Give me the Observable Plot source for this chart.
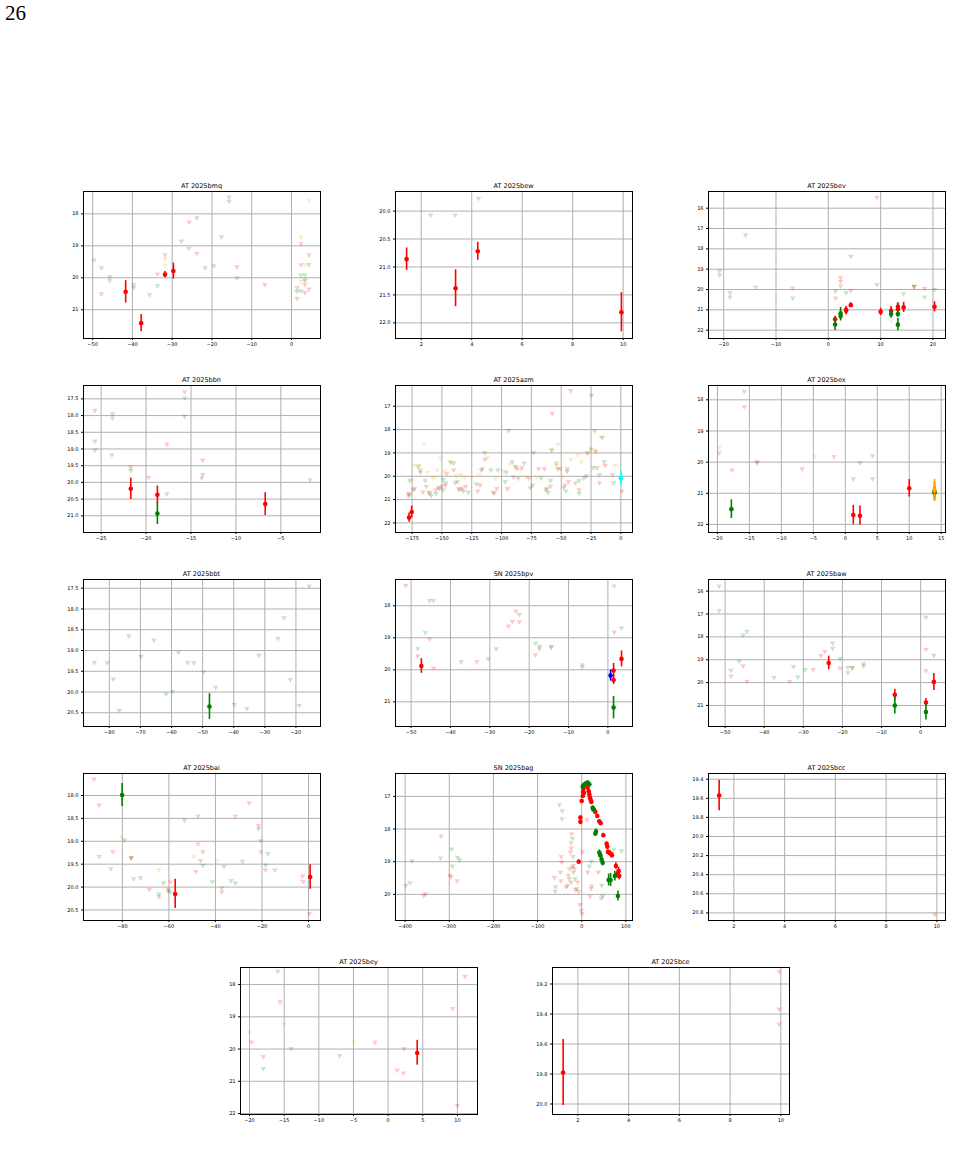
<!DOCTYPE html>
<html><head><meta charset="utf-8">
<script src="https://cdn.jsdelivr.net/npm/d3@7"></script>
<script src="https://cdn.jsdelivr.net/npm/@observablehq/plot@0.6"></script>
<style>
body{margin:0;background:#fff;}
#page{position:relative;width:953px;height:1154px;overflow:hidden;font-family:"DejaVu Sans",sans-serif;background:#fff;color:#000;}
.pg{position:absolute;left:5px;top:1px;font-family:"Liberation Serif","DejaVu Serif",serif;font-size:21px;}
.panel{position:absolute;}
.ttl{position:absolute;font-size:6.5px;text-align:center;white-space:nowrap;color:#000;}
</style></head><body><div id="page"><div class="pg">26</div></div>
<script>
// ---------- DATA: detections [phase, mag, err, band], upper limits [phase, mag, band] ----------
const bmq_det = [[-41.7,20.44,0.35,"r"],[-37.8,21.42,0.27,"r"],[-31.8,19.90,0.1,"r"],[-29.7,19.79,0.25,"r"]];
const bmq_lim = [[-15.7,17.49,"g"],[-15.7,17.62,"r"],[4.4,17.59,"o"],[-25.7,18.27,"r"],[-23.8,18.14,"g"],[-17.6,18.73,"g"],
 [-27.7,18.87,"g"],[-25.8,19.09,"g"],[-23.8,19.25,"r"],[-31.8,19.30,"g"],[-31.8,19.43,"o"],[-31.8,19.62,"o"],[-49.6,19.46,"g"],
 [-47.8,19.70,"g"],[-21.7,19.70,"g"],[-19.5,19.64,"g"],[-13.7,19.67,"r"],[-13.7,20.02,"g"],[-33.7,19.90,"r"],[-45.7,19.98,"g"],
 [-45.7,20.10,"r"],[-39.7,20.23,"r"],[-39.7,20.32,"g"],[-33.7,20.27,"g"],[-47.8,20.52,"r"],[-35.7,20.54,"g"],[-6.7,20.23,"r"],
 [2.4,18.74,"o"],[2.4,18.95,"r"],[4.4,19.30,"r"],[2.4,19.61,"r"],[3.4,19.61,"o"],[4.4,19.60,"g"],[2.4,19.93,"g"],[3.4,19.93,"g"],
 [3.4,20.09,"o"],[3.4,20.09,"g"],[3.4,20.23,"r"],[1.4,20.32,"r"],[2.4,20.13,"o"],[1.4,20.44,"g"],[2.4,20.42,"g"],[3.4,20.48,"r"],
 [4.4,20.37,"r"],[1.4,20.66,"r"]];

const bew_det = [[1.42,20.86,0.2,"r"],[3.36,21.38,0.33,"r"],[4.24,20.72,0.16,"r"],[9.93,21.81,0.35,"r"]];
const bew_lim = [[2.37,20.08,"g"],[3.34,20.08,"g"],[4.27,19.78,"g"]];

const bev_det = [[1.3,21.46,0.15,"r"],[1.3,21.72,0.3,"g"],[2.35,21.18,0.3,"g"],[2.35,21.3,0.25,"g"],[3.4,21.05,0.2,"r"],[3.4,21.0,0.15,"r"],
 [4.3,20.77,0.12,"r"],[10.0,21.1,0.18,"r"],[12.0,21.05,0.22,"r"],[12.0,21.21,0.2,"g"],[13.3,20.85,0.2,"r"],[13.3,20.97,0.18,"r"],
 [13.3,21.21,0.15,"g"],[13.3,21.73,0.3,"g"],[14.4,20.88,0.25,"r"],[20.3,20.85,0.25,"r"]];
const bev_lim = [[9.3,15.49,"r"],[-15.8,17.34,"g"],[4.3,18.39,"g"],[-20.8,19.11,"g"],[-20.8,19.31,"r"],[-18.8,20.18,"g"],[-18.8,20.39,"r"],
 [-13.9,19.9,"r"],[-6.8,19.95,"r"],[-6.8,20.44,"g"],[2.35,19.44,"r"],[2.35,19.62,"r"],[2.35,19.85,"r"],[1.4,20.1,"g"],[1.4,20.44,"r"],
 [3.4,20.18,"g"],[4.3,20.08,"r"],[9.3,19.78,"g"],[14.35,20.23,"g"],[16.4,19.87,"r"],[16.4,19.87,"g"],[16.4,19.87,"o"],[18.4,19.97,"r"],
 [18.4,20.39,"g"],[20.3,20.02,"g"],[12.0,21.55,"o"],[13.3,20.75,"g"]];

const bbn_det = [[-21.7,20.19,0.32,"r"],[-18.74,20.37,0.26,"r"],[-18.74,20.93,0.33,"g"],[-6.74,20.65,0.34,"r"]];
const bbn_lim = [[-15.7,17.3,"r"],[-15.7,17.48,"g"],[-15.7,18.04,"g"],[-25.7,17.86,"r"],[-23.74,17.96,"g"],[-23.74,18.09,"g"],
 [-25.7,18.78,"g"],[-25.7,19.05,"g"],[-23.8,19.19,"r"],[-21.7,19.56,"r"],[-21.7,19.65,"g"],[-19.7,19.86,"r"],[-17.7,18.87,"r"],
 [-17.7,20.36,"g"],[-13.7,19.35,"r"],[-13.7,19.78,"g"],[-13.8,19.88,"r"],[-1.74,19.94,"r"]];

const azm_det = [[-177.5,21.77,0.2,"r"],[-175.3,21.53,0.25,"r"],[0,20.08,0.3,"c"]];
const azm_lim = [[-178,20.75,"r"],[-177,20.8,"r"],[-178,20.85,"g"],[-177,20.2,"g"],[-175,20.2,"o"],[-174,20.6,"g"],[-173,20.55,"r"],
 [-173,19.55,"o"],[-170,19.6,"g"],[-169,19.55,"o"],[-168,19.75,"g"],[-168,19.85,"r"],[-166,20.7,"r"],[-165,18.65,"o"],[-164,20.2,"g"],
 [-163,20.45,"r"],[-162,19.85,"o"],[-161,20.7,"g"],[-160,20.75,"r"],[-159,20.85,"g"],[-158,20.1,"o"],[-156,20.05,"o"],[-155,20.75,"g"],
 [-155,20.6,"r"],[-154,19.75,"o"],[-153,20.5,"r"],[-152,20.55,"g"],[-151,19.25,"o"],[-150,20.45,"r"],[-149,20.6,"g"],[-149,20.15,"g"],
 [-148,19.8,"o"],[-147,20.4,"r"],[-147,20.3,"g"],[-146,19.9,"r"],[-143,19.4,"g"],[-142,19.45,"o"],[-140,19.45,"g"],[-140,19.75,"r"],
 [-139,20.3,"r"],[-138,20.0,"o"],[-137,20.25,"g"],[-136,20.55,"r"],[-135,20.6,"g"],[-134,19.95,"o"],[-133,20.55,"r"],[-132,20.65,"g"],
 [-131,20.05,"o"],[-130,20.45,"r"],[-128,20.7,"g"],[-125,20.05,"o"],[-121,20.35,"g"],[-120,20.65,"r"],[-119,19.95,"o"],[-118,20.4,"r"],
 [-117,19.75,"g"],[-116,19.7,"r"],[-114,19.0,"g"],[-114,19.3,"r"],[-112,19.2,"o"],[-109,19.75,"g"],[-107,20.7,"r"],[-106,20.75,"g"],
 [-105,20.1,"o"],[-104,20.55,"r"],[-103,19.75,"g"],[-98,19.8,"o"],[-96,19.85,"g"],[-94,18.06,"r"],[-97,20.25,"g"],[-95,20.55,"r"],
 [-93,19.5,"o"],[-91,19.4,"g"],[-90,20.05,"r"],[-89,19.6,"o"],[-88,19.6,"g"],[-87,19.7,"r"],[-86,20.1,"g"],[-84,19.75,"o"],
 [-83,19.65,"r"],[-81,19.45,"g"],[-79,20.05,"o"],[-77,20.1,"r"],[-76,20.5,"g"],[-74,20.4,"r"],[-73,19.0,"g"],[-71,20.05,"o"],
 [-69,19.7,"r"],[-67,20.1,"g"],[-64,19.7,"r"],[-63,20.6,"g"],[-62,20.55,"r"],[-61,20.7,"g"],[-59,20.45,"r"],[-59,20.2,"g"],
 [-58,18.85,"o"],[-58,18.9,"g"],[-57.6,17.32,"r"],[-54,19.55,"o"],[-52.8,18.65,"o"],[-54,19.45,"g"],[-53,19.7,"r"],[-51,19.7,"r"],
 [-49,20.05,"o"],[-48,20.5,"g"],[-47,20.4,"r"],[-46,20.65,"g"],[-45,19.7,"r"],[-45,19.8,"g"],[-44,20.25,"r"],[-42,19.3,"o"],
 [-42,16.35,"r"],[-38,20.3,"r"],[-36,19.1,"o"],[-35,20.2,"g"],[-35,20.6,"r"],[-35,20.75,"g"],[-33,19.4,"o"],[-31,20.1,"r"],
 [-29,20.0,"g"],[-28,19.0,"r"],[-27.5,19.05,"o"],[-25,18.85,"g"],[-24.5,16.55,"r"],[-23,19.65,"g"],[-22,18.07,"g"],[-22,18.9,"o"],
 [-21,18.95,"r"],[-20,19.65,"r"],[-18,19.95,"g"],[-18,20.3,"r"],[-16,18.35,"g"],[-15,18.35,"o"],[-14,19.4,"g"],[-13,19.55,"r"],
 [-5,19.55,"o"],[-6,20.3,"g"],[-7,19.95,"r"],[1,20.65,"r"],[0,20.15,"g"]];

const bex_det = [[-17.82,21.51,0.3,"g"],[1.25,21.7,0.31,"r"],[2.29,21.72,0.31,"r"],[10.0,20.84,0.28,"r"],[13.95,20.98,0.2,"g"],
 [13.95,20.95,0.3,"r"],[13.95,20.9,0.35,"o"]];
const bex_lim = [[-15.8,17.74,"g"],[-15.8,18.24,"r"],[-19.74,19.54,"o"],[-19.74,19.72,"r"],[-13.8,20.0,"r"],[-13.8,20.04,"g"],
 [-17.7,20.27,"r"],[-6.75,20.23,"r"],[-4.75,19.82,"o"],[-1.77,19.84,"r"],[1.25,20.55,"g"],[2.29,20.04,"g"],[4.26,19.81,"g"],[4.26,20.55,"r"]];

const bbt_det = [[-47.8,20.35,0.31,"g"]];
const bbt_lim = [[-84.8,19.3,"g"],[-80.7,19.3,"g"],[-78.7,19.7,"g"],[-76.8,20.45,"g"],[-73.7,18.66,"g"],[-69.8,19.15,"g"],
 [-65.7,18.76,"g"],[-61.7,20.06,"g"],[-59.7,20.0,"g"],[-57.8,19.06,"g"],[-54.8,19.3,"g"],[-52.8,19.31,"g"],[-49.7,19.53,"g"],
 [-45.8,19.9,"g"],[-39.8,20.31,"g"],[-35.8,20.41,"g"],[-31.9,19.13,"g"],[-25.8,18.72,"g"],[-23.8,18.22,"g"],[-21.8,19.71,"g"],
 [-18.9,20.33,"g"],[-15.7,17.46,"g"]];

const bpv_det = [[-47.4,19.88,0.23,"r"],[0.68,20.18,0.17,"b"],[1.44,20.02,0.22,"r"],[1.44,20.32,0.14,"r"],[3.46,19.66,0.25,"r"],
 [1.44,21.18,0.35,"g"]];
const bpv_lim = [[-51.35,17.38,"r"],[-45.3,17.85,"g"],[-44.3,17.85,"g"],[-46.4,18.85,"g"],[-45.3,19.05,"r"],[-48.3,19.35,"g"],
 [-48.3,19.58,"r"],[-44.3,19.96,"r"],[-37.3,19.76,"g"],[-33.3,19.76,"r"],[-30.4,19.67,"g"],[-28.4,19.36,"g"],[-25.3,18.65,"r"],
 [-24.3,18.5,"r"],[-23.4,18.18,"r"],[-22.5,18.29,"g"],[-22.5,18.52,"r"],[-18.4,19.18,"g"],[-18.4,19.55,"r"],[-17.4,19.28,"g"],
 [-17.4,19.36,"r"],[-14.4,19.28,"r"],[-14.4,19.32,"g"],[-6.5,19.86,"g"],[-6.5,19.92,"r"],[1.6,17.4,"g"],[1.6,18.84,"r"],[3.46,18.71,"g"]];

const baw_det = [[-23.5,19.14,0.3,"r"],[-6.6,20.53,0.24,"r"],[-6.6,21.0,0.37,"g"],[1.36,20.87,0.17,"r"],[1.36,21.29,0.35,"g"],
 [3.39,19.97,0.37,"r"]];
const baw_lim = [[-51.5,15.8,"g"],[-51.5,16.87,"r"],[-44.4,17.78,"g"],[-45.4,17.94,"g"],[-46.4,19.09,"g"],[-45.4,19.29,"r"],
 [-48.5,19.48,"g"],[-48.5,19.74,"r"],[-44.4,19.97,"r"],[-37.5,19.8,"g"],[-32.5,19.32,"g"],[-33.5,19.96,"r"],[-31.4,19.78,"g"],
 [-29.5,19.45,"g"],[-27.5,19.45,"r"],[-25.5,18.84,"r"],[-24.5,18.65,"r"],[-22.5,18.29,"g"],[-22.5,18.52,"r"],[-20.6,18.97,"g"],
 [-20.6,19.39,"r"],[-18.6,19.35,"g"],[-18.6,19.58,"r"],[-17.5,19.35,"g"],[-17.5,19.39,"r"],[-14.6,19.19,"r"],[-14.6,19.29,"g"],
 [1.36,17.16,"g"],[1.36,18.56,"r"],[1.36,19.5,"r"],[3.39,18.83,"g"]];

const bai_det = [[-80.1,17.99,0.25,"g"],[-57.3,20.15,0.32,"r"],[0.7,19.78,0.27,"r"]];
const bai_lim = [[-92.2,17.65,"r"],[-90,18.22,"r"],[-80.3,18.91,"o"],[-79.1,18.98,"g"],[-90,19.34,"g"],[-84.1,19.24,"r"],
 [-76.2,19.37,"o"],[-76.2,19.37,"g"],[-76.2,19.37,"r"],[-85,19.61,"g"],[-75.2,19.83,"r"],[-72.2,19.81,"g"],[-68.4,20.06,"r"],
 [-62.3,19.92,"g"],[-64.3,20.22,"r"],[-64.3,20.16,"g"],[-64.3,19.63,"o"],[-60.3,20.06,"r"],[-59.3,19.9,"r"],[-59.3,20.12,"g"],
 [-60.3,20.1,"g"],[-53.3,18.55,"g"],[-47.5,18.46,"g"],[-47.5,19.07,"r"],[-45.4,19.24,"r"],[-46.4,19.43,"r"],[-45.4,19.54,"g"],
 [-49.4,19.35,"o"],[-48.5,19.67,"r"],[-39.3,19.43,"o"],[-36.3,19.56,"g"],[-41.3,19.89,"g"],[-37.3,20.03,"g"],[-37.3,20.12,"r"],
 [-33.3,19.87,"g"],[-31.4,19.92,"g"],[-31.4,18.46,"r"],[-28.4,19.45,"g"],[-25.5,18.17,"r"],[-21.5,18.67,"r"],[-21.5,18.74,"g"],
 [-20.5,19.0,"g"],[-20.5,19.24,"r"],[-17.5,19.28,"g"],[-18.5,19.53,"g"],[-18.5,19.64,"r"],[-14.5,19.64,"g"],[-2.6,19.77,"r"],
 [-2.3,19.89,"r"],[0.4,20.59,"r"]];

const bag_det = [[2.3,16.7,0.05,"g"],[6,16.64,0.05,"g"],[9.8,16.6,0.05,"g"],[13.5,16.58,0.05,"g"],[17.3,16.63,0.05,"g"],[4,16.68,0.05,"g"],
 [24.8,17.35,0.06,"g"],[26.3,17.4,0.06,"g"],[32.3,18.08,0.08,"g"],[30.8,18.14,0.08,"g"],[39.8,18.72,0.08,"g"],[42,18.8,0.1,"g"],
 [45,18.93,0.1,"g"],[47.4,19.03,0.1,"g"],[60.9,19.56,0.18,"g"],[65.4,19.56,0.2,"g"],[75,19.44,0.15,"g"],[82,20.05,0.15,"g"],
 [0,17.14,0.05,"r"],[2.3,16.99,0.05,"r"],[3,16.87,0.05,"r"],[3.8,16.77,0.05,"r"],[4.5,16.68,0.05,"r"],[5,16.9,0.05,"r"],
 [13.5,16.73,0.05,"r"],[15.8,16.84,0.05,"r"],[17.3,16.94,0.05,"r"],[18.8,17.04,0.05,"r"],[20.3,17.11,0.05,"r"],[21.8,17.17,0.05,"r"],
 [27.8,17.4,0.05,"r"],[30.8,17.48,0.05,"r"],[35.3,17.6,0.05,"r"],[39.8,17.76,0.05,"r"],[42.9,17.82,0.05,"r"],[-3,17.65,0.05,"r"],
 [-3,17.78,0.05,"r"],[48.9,18.19,0.06,"r"],[56.4,18.45,0.06,"r"],[57.9,18.54,0.06,"r"],[59.4,18.7,0.06,"r"],[63.9,18.74,0.08,"r"],
 [68.4,18.8,0.08,"r"],[77.4,19.13,0.1,"r"],[81.2,19.37,0.12,"r"],[83.5,19.29,0.12,"r"],[85,19.44,0.12,"r"],[-6.8,19.0,0.06,"r"]];
const bag_lim = [[-398.5,19.74,"r"],[-389,19.66,"g"],[-384.8,18.99,"g"],[-358,20.05,"r"],[-354,20.0,"r"],[-318,18.23,"r"],
 [-320,18.9,"g"],[-299,19.43,"r"],[-296,19.48,"r"],[-294.7,18.63,"g"],[-292.5,19.15,"g"],[-282,19.6,"r"],[-281,18.88,"g"],
 [-276.7,18.96,"g"],[-50.4,17.27,"r"],[-44.4,17.46,"g"],[-45,17.7,"g"],[-46.6,18.86,"r"],[-45,19.03,"r"],[-48,19.34,"g"],
 [-47,19.6,"r"],[-61.7,19.5,"r"],[-60,19.92,"g"],[-59.4,19.78,"r"],[-23.3,18.16,"r"],[-21,18.3,"g"],[-24,18.44,"r"],[-24,18.6,"r"],
 [-25.6,18.72,"r"],[-19.5,18.86,"g"],[-18.8,19.13,"r"],[-21.8,19.18,"g"],[-27.8,19.23,"r"],[-18.8,19.34,"g"],[-16.5,19.23,"r"],
 [-30,19.43,"r"],[-27.8,19.54,"g"],[-15,19.54,"g"],[-24,19.64,"r"],[-32.3,19.74,"g"],[-35.3,19.79,"r"],[-14.3,19.87,"r"],
 [-11.3,19.84,"g"],[-6.8,19.92,"r"],[-3.8,20.33,"r"],[-1.5,20.5,"r"],[0.8,20.6,"r"],[-9,19.64,"r"],[1.5,18.72,"r"],[21.8,19.0,"g"],
 [11.3,17.73,"r"],[13.5,19.33,"r"],[17.3,19.15,"g"],[21,19.84,"r"],[22.6,19.76,"r"],[18.8,20.08,"r"],[37.6,19.33,"r"],[45,19.74,"g"],
 [44.4,20.13,"r"],[47.4,20.07,"g"],[72.2,18.65,"g"],[90.2,18.68,"g"]];

const bcc_det = [[1.42,19.57,0.16,"r"]];
const bcc_lim = [[9.92,20.82,"r"]];

const bey_det = [[4.2,20.12,0.38,"r"]];
const bey_lim = [[-15.9,17.6,"g"],[11.1,17.76,"r"],[-15.6,18.55,"r"],[-15,19.25,"o"],[9.3,18.76,"r"],[-20,19.5,"o"],[-19.7,19.8,"r"],
 [-18,20.25,"r"],[-18,20.62,"g"],[-14,20.0,"r"],[-7,20.22,"r"],[-5,19.8,"o"],[-1.9,19.8,"r"],[1.3,20.67,"r"],[2.2,20.76,"r"],
 [2.3,20.0,"r"],[4.2,19.75,"o"],[10,21.76,"r"]];

const bce_det = [[1.42,19.79,0.22,"r"]];
const bce_lim = [[9.93,19.12,"r"],[9.93,19.37,"r"],[9.93,19.47,"r"]];

// ---------- panel axes: names, domains, tick values ----------
const names = ["AT 2025bmq","AT 2025bew","AT 2025bev","AT 2025bbn","AT 2025azm","AT 2025bex","AT 2025bbt","SN 2025bpv",
 "AT 2025baw","AT 2025bai","SN 2025bag","AT 2025bcc","AT 2025bey","AT 2025bce"];
const dets = [bmq_det,bew_det,bev_det,bbn_det,azm_det,bex_det,bbt_det,bpv_det,baw_det,bai_det,bag_det,bcc_det,bey_det,bce_det];
const lims = [bmq_lim,bew_lim,bev_lim,bbn_lim,azm_lim,bex_lim,bbt_lim,bpv_lim,baw_lim,bai_lim,bag_lim,bcc_lim,bey_lim,bce_lim];
const xDomains = [[-52.3,7.3],[0.98,10.37],[-22.9,22.4],[-26.96,-0.59],[-188.9,9.75],[-21.4,15.67],[-88.3,-12.1],[-53.97,6.25],
 [-54.24,6.36],[-96.7,5.15],[-421.8,115],[1.0,10.34],[-21.3,12.9],[1.0,10.34]];
const yDomains = [[17.3,21.9],[19.65,22.28],[15.18,22.41],[17.1,21.5],[16.11,22.41],[17.54,22.26],[17.29,20.83],[17.18,21.77],
 [15.49,21.92],[17.52,20.73],[16.3,20.8],[19.34,20.88],[17.47,22.03],[19.09,20.07]];
const xTicks = [[-50,-40,-30,-20,-10,0],[2,4,6,8,10],[-20,-10,0,10,20],[-25,-20,-15,-10,-5],[-175,-150,-125,-100,-75,-50,-25,0],
 [-20,-15,-10,-5,0,5,10,15],[-80,-70,-60,-50,-40,-30,-20],[-50,-40,-30,-20,-10,0],[-50,-40,-30,-20,-10,0],[-80,-60,-40,-20,0],
 [-400,-300,-200,-100,0,100],[2,4,6,8,10],[-20,-15,-10,-5,0,5,10],[2,4,6,8,10]];
const yTicks = [[18,19,20,21],[20,20.5,21,21.5,22],[16,17,18,19,20,21,22],[17.5,18,18.5,19,19.5,20,20.5,21],[17,18,19,20,21,22],
 [18,19,20,21,22],[17.5,18,18.5,19,19.5,20,20.5],[18,19,20,21],[16,17,18,19,20,21],[18,18.5,19,19.5,20,20.5],[17,18,19,20],
 [19.4,19.6,19.8,20.0,20.2,20.4,20.6,20.8],[18,19,20,21,22],[19.2,19.4,19.6,19.8,20.0]];

// ---------- layout ----------
const FW = 237, FH = 147, ML = 26, MR = 6, MT = 4, MB = 16;
const pos = [[83,191],[395,191],[708,191],[83,385],[395,385],[708,385],[83,579],[395,579],[708,579],[83,773],[395,773],[708,773],[240,967],[552,967]];
const detCol = {r:"#ff0000", g:"#008000", o:"#ffa500", b:"#0000ff", c:"#00ffff"};
const limCol = {r:"#ff0000", g:"#008000", o:"#ffa500"};
const triDown = {draw(ctx, size){ const a = Math.sqrt(size)*0.52; ctx.moveTo(-a,-a*0.75); ctx.lineTo(a,-a*0.75); ctx.lineTo(0,a*0.95); ctx.closePath(); }};

const page = document.getElementById("page");
names.forEach((name, i) => {
  const det = dets[i].map(([x,y,e,b]) => ({x,y,e,b}));
  const lim = lims[i].map(([x,y,b]) => ({x,y,b}));
  const yt = yTicks[i];
  const yfmt = yt.some(v => !Number.isInteger(v)) ? d3.format(".1f") : d3.format("d");
  const limMarks = ["o","g","r"].map(b => Plot.dot(lim.filter(d => d.b === b), {x: "x", y: "y", symbol: triDown, r: 2.6,
      fill: limCol[b], fillOpacity: 0.2, stroke: limCol[b], strokeOpacity: 0.12, strokeWidth: 0.6}));
  const detMarks = ["r","g","o","b","c"].flatMap(b => {
    const sub = det.filter(d => d.b === b);
    return [
      Plot.ruleX(sub, {x: "x", y1: d => d.y - d.e, y2: d => d.y + d.e, stroke: detCol[b], strokeOpacity: 1, strokeWidth: 1.6}),
      Plot.dot(sub, {x: "x", y: "y", r: 2.3, fill: detCol[b], stroke: "none"})
    ];
  });
  const chart = Plot.plot({
    width: FW + ML + MR, height: FH + MT + MB,
    marginLeft: ML, marginRight: MR, marginTop: MT, marginBottom: MB,
    style: {fontSize: "5px", fontFamily: "DejaVu Sans, sans-serif", background: "transparent", overflow: "visible", color: "black"},
    x: {domain: xDomains[i], ticks: xTicks[i], tickFormat: d3.format("d"), tickSize: 2, tickPadding: 1.5, label: null},
    y: {domain: yDomains[i], reverse: true, ticks: yt, tickFormat: yfmt, tickSize: 2, tickPadding: 3, label: null},
    marks: [
      Plot.gridX(xTicks[i], {stroke: "#b0b0b0", strokeOpacity: 1, strokeWidth: 1}),
      Plot.gridY(yt, {stroke: "#b0b0b0", strokeOpacity: 1, strokeWidth: 1}),
      ...limMarks,
      ...detMarks,
      Plot.frame({stroke: "black", strokeWidth: 1})
    ]
  });
  const wrap = document.createElement("div");
  wrap.className = "panel";
  wrap.style.left = (pos[i][0] - ML) + "px";
  wrap.style.top = (pos[i][1] - MT) + "px";
  wrap.appendChild(chart);
  page.appendChild(wrap);
  const t = document.createElement("div");
  t.className = "ttl";
  t.textContent = name;
  t.style.left = pos[i][0] + "px";
  t.style.width = FW + "px";
  t.style.top = (pos[i][1] - 9) + "px";
  page.appendChild(t);
});
</script></body></html>
